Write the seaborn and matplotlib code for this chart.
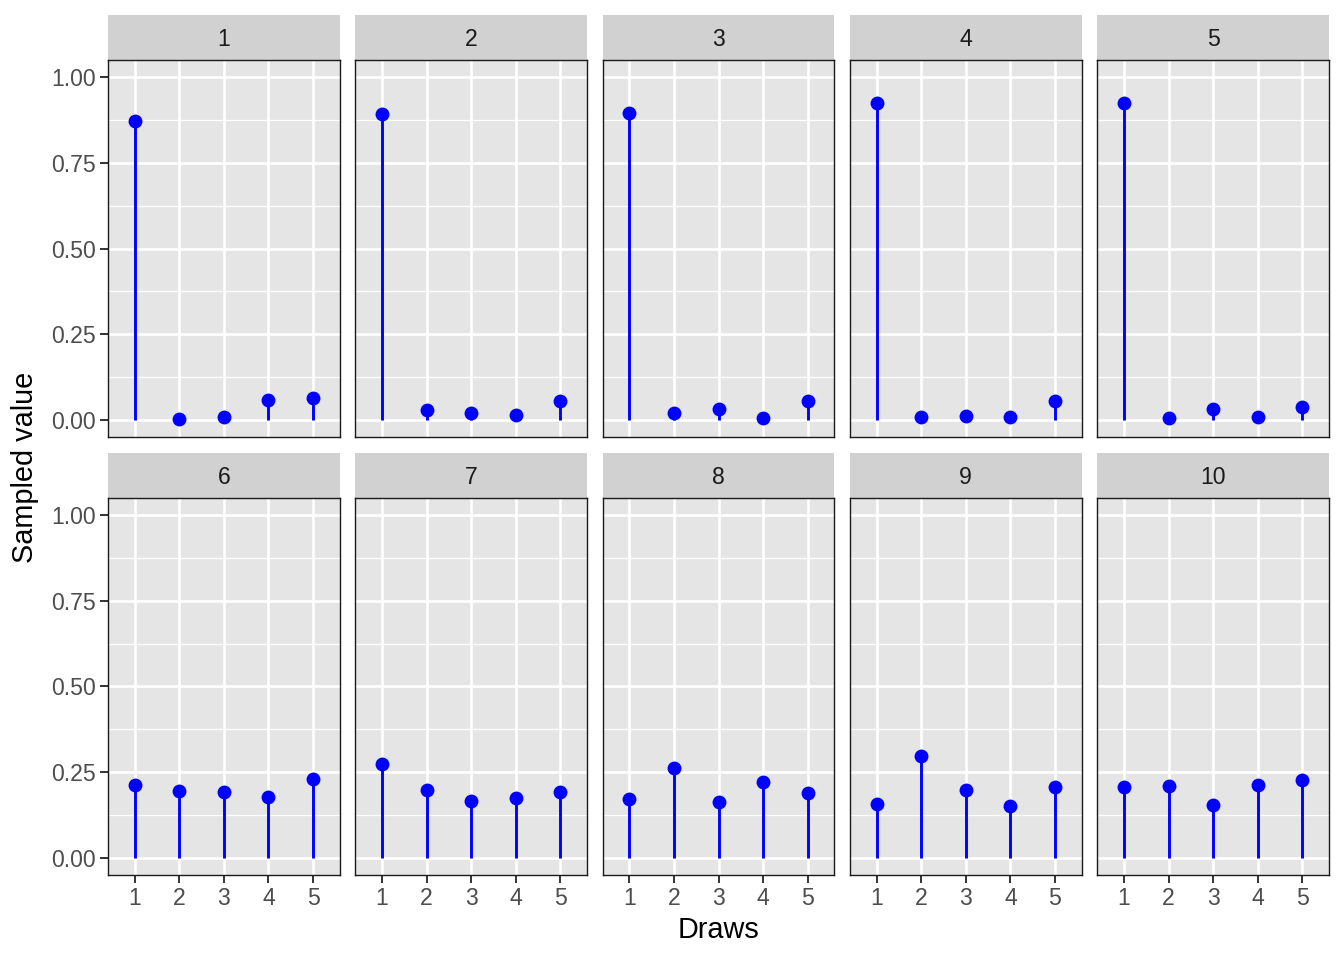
import numpy as np
import pandas as pd
import matplotlib
matplotlib.use("Agg")
import matplotlib.pyplot as plt
import seaborn as sns
from matplotlib.patches import Rectangle
from matplotlib.ticker import FixedLocator

sims = [1, 2, 3, 4, 5, 6, 7, 8, 9, 10]
draws = [1, 2, 3, 4, 5]
values = {
    1: [0.872, 0.003, 0.009, 0.058, 0.064],
    2: [0.892, 0.029, 0.020, 0.015, 0.055],
    3: [0.895, 0.020, 0.032, 0.006, 0.055],
    4: [0.924, 0.009, 0.012, 0.009, 0.055],
    5: [0.924, 0.006, 0.032, 0.009, 0.038],
    6: [0.212, 0.195, 0.192, 0.177, 0.230],
    7: [0.273, 0.198, 0.166, 0.174, 0.192],
    8: [0.172, 0.262, 0.163, 0.221, 0.189],
    9: [0.157, 0.297, 0.198, 0.151, 0.206],
    10: [0.206, 0.209, 0.154, 0.212, 0.227],
}
y_ticks = [0.0, 0.25, 0.5, 0.75, 1.0]
y_tick_labels = ["0.00", "0.25", "0.50", "0.75", "1.00"]

rows = []
for s in sims:
    for d, v in zip(draws, values[s]):
        rows.append({"sim": s, "draw": d, "value": v})
df = pd.DataFrame(rows)

sns.set_style("white")
plt.rcParams["font.family"] = ["Liberation Sans", "DejaVu Sans"]

g = sns.FacetGrid(df, col="sim", col_wrap=5, sharex=True, sharey=True,
                  height=3, aspect=0.8, despine=False)


def stem(x, y, **kw):
    ax = plt.gca()
    ax.vlines(x, 0, y, color="#0000FF", lw=2.1, zorder=3)
    ax.scatter(x, y, color="#0000FF", s=100, zorder=4, linewidths=0)


g.map(stem, "draw", "value")
fig = g.figure
fig.set_size_inches(13.44, 9.6)
fig.subplots_adjust(left=108 / 1344, right=1329 / 1344, top=1 - 60 / 960,
                    bottom=1 - 875 / 960, wspace=0.0669, hspace=0.1618)

axes = g.axes.flatten()
for i, ax in enumerate(axes):
    ax.set_title("")
    ax.set_xlabel("")
    ax.set_ylabel("")
    ax.set_facecolor("#E5E5E5")
    ax.set_xlim(0.4, 5.6)
    ax.set_ylim(-0.05, 1.05)
    ax.set_xticks(draws)
    ax.set_xticklabels([str(d) for d in draws])
    ax.set_yticks(y_ticks)
    ax.set_yticklabels(y_tick_labels)
    ax.yaxis.set_minor_locator(FixedLocator([0.125, 0.375, 0.625, 0.875]))
    ax.set_axisbelow(True)
    ax.grid(which="major", color="white", lw=1.9)
    ax.grid(which="minor", axis="y", color="white", lw=0.9)
    for sp in ax.spines.values():
        sp.set_color("#1A1A1A")
        sp.set_linewidth(1.0)
        sp.set_visible(True)
    ax.tick_params(which="minor", length=0)
    col = i % 5
    row = i // 5
    ax.tick_params(axis="y", which="major", length=5.5, width=1.4, color="#333333",
                   labelsize=16.6, labelcolor="#4D4D4D", pad=3,
                   left=(col == 0), labelleft=(col == 0))
    ax.tick_params(axis="x", which="major", length=5.5, width=1.4, color="#333333",
                   labelsize=16.6, labelcolor="#4D4D4D", pad=3,
                   bottom=(row == 1), labelbottom=(row == 1))
    # strip
    strip_h = 45 / 377
    ax.add_patch(Rectangle((0, 1.0), 1, strip_h, transform=ax.transAxes,
                           facecolor="#D1D1D1", edgecolor="none", clip_on=False, zorder=1))
    ax.text(0.5, 1 + strip_h / 2 - 0.004, str(sims[i]), transform=ax.transAxes,
            ha="center", va="center", fontsize=16.6, color="#1A1A1A")

fig.text(718 / 1344, 1 - 930 / 960, "Draws", ha="center", va="center",
         fontsize=20.8, color="black")
fig.text(25 / 1344, 1 - 467 / 960, "Sampled value", ha="center", va="center",
         rotation=90, fontsize=20.8, color="black")

fig.savefig("out.png", dpi=100, facecolor="white")
